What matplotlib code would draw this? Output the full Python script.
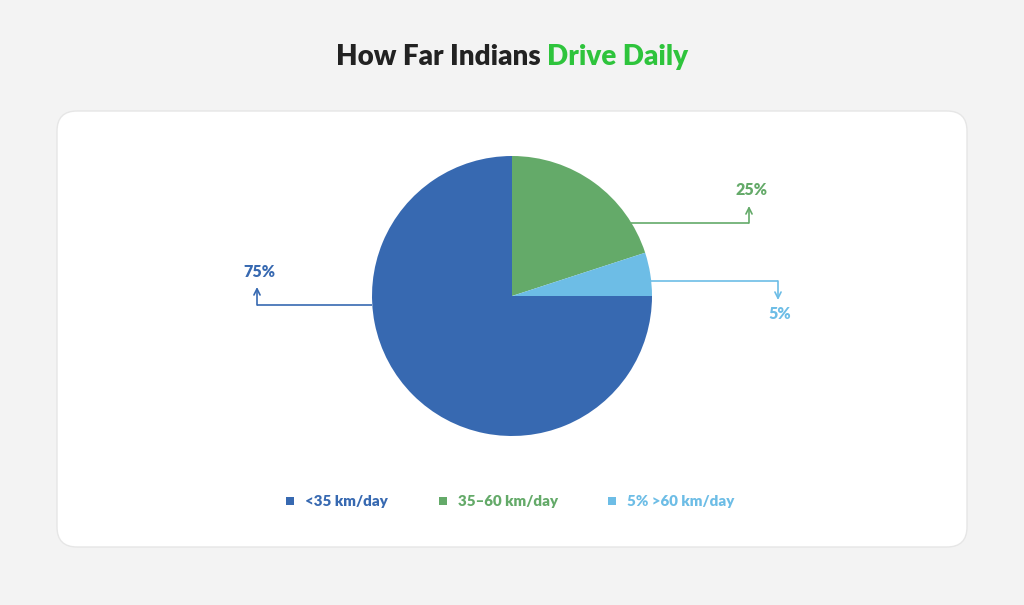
import numpy as np
import matplotlib
matplotlib.use("Agg")
import matplotlib.pyplot as plt
from matplotlib.patches import FancyBboxPatch, Rectangle

# data
categories = ["<35 km/day", "35\u201360 km/day", "5% >60 km/day"]
shares = [75, 20, 5]  # wedge sizes as drawn
value_labels = ["75%", "25%", "5%"]  # labels as printed on the chart
colors = ["#3769b1", "#64aa69", "#6dbde6"]

plt.rcParams['font.family'] = ['Lato', 'DejaVu Sans']

W, H = 1024, 605
fig = plt.figure(figsize=(W / 100, H / 100), dpi=100)
fig.patch.set_facecolor("#f3f3f3")

# background axes in pixel coords
bg = fig.add_axes([0, 0, 1, 1])
bg.set_xlim(0, W)
bg.set_ylim(H, 0)
bg.axis('off')

card = FancyBboxPatch((57, 111), 910, 436, boxstyle="round,pad=0,rounding_size=20",
                      facecolor="white", edgecolor="#e6e6e6", linewidth=1)
bg.add_patch(card)

# title in two colours, centred as a whole
renderer = fig.canvas.get_renderer()
t1 = bg.text(0, 57, "How Far Indians ", fontsize=20, fontweight='heavy', color="#222222",
             ha='left', va='center')
t2 = bg.text(0, 57, "Drive Daily", fontsize=20, fontweight='heavy', color="#2ec43c",
             ha='left', va='center')
w1 = t1.get_window_extent(renderer).width
w2 = t2.get_window_extent(renderer).width
x0 = W / 2 - (w1 + w2) / 2
t1.set_x(x0)
t2.set_x(x0 + w1)

# pie
cx, cy, r = 512, 296, 140
pie_ax = fig.add_axes([(cx - r) / W, 1 - (cy + r) / H, 2 * r / W, 2 * r / H])
pie_ax.pie(shares, colors=colors, startangle=0, counterclock=False,
           wedgeprops=dict(linewidth=0))
pie_ax.set_xlim(-1, 1)
pie_ax.set_ylim(-1, 1)
pie_ax.axis('off')

# leader lines: (line y, side, corner x, arrow tip y, label y)
leaders = [
    (305, -1, 257, 287, 272),
    (223, 1, 749, 206, 190),
    (281, 1, 778, 300, 314),
]
for (ly, side, kx, tip, laby), lab, c in zip(leaders, value_labels, colors):
    dx = np.sqrt(r ** 2 - (ly - cy) ** 2)
    ex = cx + side * dx
    bg.plot([ex, kx], [ly, ly], color=c, lw=1.2, solid_capstyle='butt')
    bg.annotate('', xy=(kx, tip), xytext=(kx, ly),
                arrowprops=dict(arrowstyle='->', color=c, lw=1.2, shrinkA=0, shrinkB=0,
                                mutation_scale=11))
    bg.text(kx + 2, laby, lab, color=c, fontsize=11.5, fontweight='heavy',
            ha='center', va='center')

# legend
leg_x = [290, 443, 612]
for x, lab, c in zip(leg_x, categories, colors):
    bg.add_patch(Rectangle((x - 4, 497), 8, 8, facecolor=c, edgecolor='none'))
    bg.text(x + 15, 501, lab, color=c, fontsize=10.8, fontweight='heavy',
            ha='left', va='center')

fig.savefig("out.png", dpi=100, facecolor=fig.get_facecolor())
